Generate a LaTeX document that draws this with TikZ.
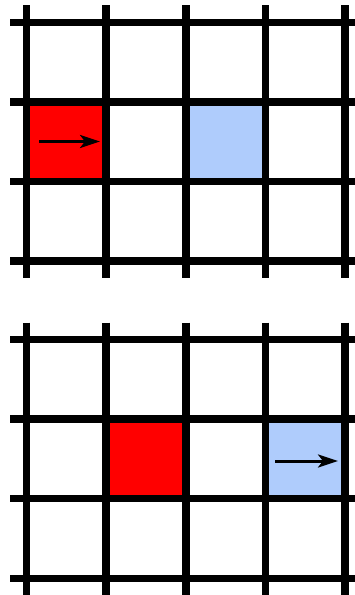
\documentclass[tikz,border=0pt]{standalone}
\usetikzlibrary{arrows.meta}
\definecolor{cellred}{RGB}{255,0,0}
\definecolor{cellblue}{RGB}{175,204,252}
\tikzset{
  gridline/.style={line width=7.5pt,black},
  move/.style={line width=3pt,-{Stealth[length=20pt,width=13pt,inset=5pt]}}
}
\begin{document}
\begin{tikzpicture}[x=1pt,y=-1pt]
\useasboundingbox (0,0) rectangle (354,595);
\fill[white] (0,0) rectangle (354,595);
% top grid cells
\fill[cellred] (26.5,102) rectangle (106,181.5);
\fill[cellblue] (186,102) rectangle (265.5,181.5);
\draw[move] (39,141.5) -- (100,141.5);
% top grid lines
\foreach \x in {26.5,106,186,265.5,345} \draw[gridline] (\x,5) -- (\x,278);
\foreach \y in {22.5,102,181.5,261} \draw[gridline] (10,\y) -- (360,\y);
% bottom grid cells
\fill[cellred] (106,419) rectangle (186,498.7);
\fill[cellblue] (265.5,419) rectangle (345,498.7);
\draw[move] (275,461) -- (338,461);
% bottom grid lines
\foreach \x in {26.5,106,186,265.5,345} \draw[gridline] (\x,322.7) -- (\x,600);
\foreach \y in {339.3,419,498.7,578.3} \draw[gridline] (10,\y) -- (360,\y);
\end{tikzpicture}
\end{document}
